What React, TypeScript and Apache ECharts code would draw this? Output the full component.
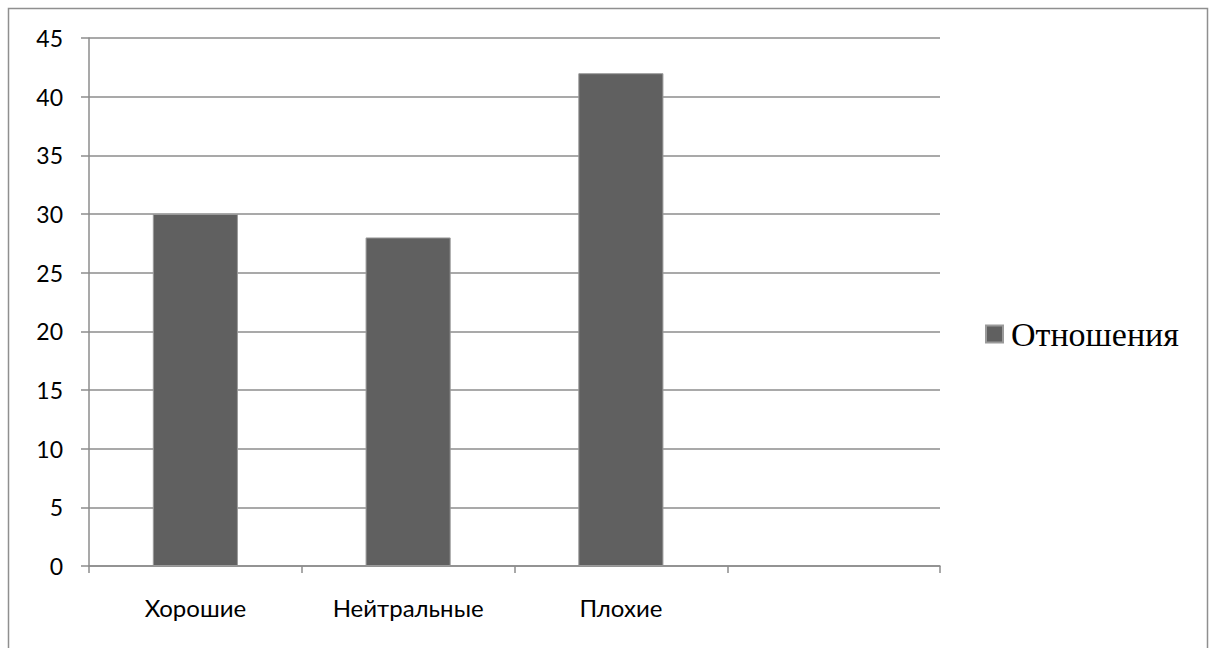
import React, { useEffect, useRef } from "react";
import * as echarts from "echarts";

const categories = ["Хорошие", "Нейтральные", "Плохие", ""];
const seriesName = "Отношения";
const values = [30, 28, 42, null];
const yMin = 0;
const yMax = 45;
const yInterval = 5;

export default function App() {
  const ref = useRef<HTMLDivElement>(null);
  useEffect(() => {
    document.body.style.margin = "0";
    const chart = echarts.init(ref.current!, undefined, { renderer: "svg" });
    chart.setOption({
      animation: false,
      backgroundColor: "#ffffff",
      grid: { left: 89, right: 276, top: 38, bottom: 82, containLabel: false },
      graphic: [
        {
          type: "rect",
          shape: { x: 8.5, y: 8.5, width: 1199, height: 700 },
          style: { fill: "none", stroke: "#8f8f8f", lineWidth: 1.5 },
          silent: true,
        },
      ],
      legend: {
        data: [seriesName],
        left: 980,
        top: 312,
        icon: "rect",
        itemWidth: 17,
        itemHeight: 17,
        textStyle: {
          fontFamily: "Liberation Serif",
          fontSize: 34,
          color: "#000",
          padding: [0, 0, 0, 3],
        },
      },
      xAxis: {
        type: "category",
        data: categories,
        axisLine: { lineStyle: { color: "#8c8c8c", width: 1.5 } },
        axisTick: { show: true, length: 7, lineStyle: { color: "#8c8c8c", width: 1.5 } },
        axisLabel: {
          margin: 29,
          fontFamily: "Lato",
          fontSize: 24,
          color: "#000",
          interval: 0,
        },
      },
      yAxis: {
        type: "value",
        min: yMin,
        max: yMax,
        interval: yInterval,
        axisLine: { show: true, lineStyle: { color: "#8c8c8c", width: 1.5 } },
        axisTick: { show: true, length: 8, lineStyle: { color: "#8c8c8c", width: 1.5 } },
        splitLine: { show: true, lineStyle: { color: "#8c8c8c", width: 1.5 } },
        axisLabel: {
          margin: 26,
          fontFamily: "Lato",
          fontSize: 23,
          color: "#000",
        },
      },
      series: [
        {
          name: seriesName,
          type: "bar",
          data: values,
          barWidth: "40%",
          itemStyle: { color: "#606060", borderColor: "#9a9a9a", borderWidth: 1 },
        },
      ],
    });
    return () => chart.dispose();
  }, []);
  return <div ref={ref} style={{ width: 1216, height: 648 }} />;
}
